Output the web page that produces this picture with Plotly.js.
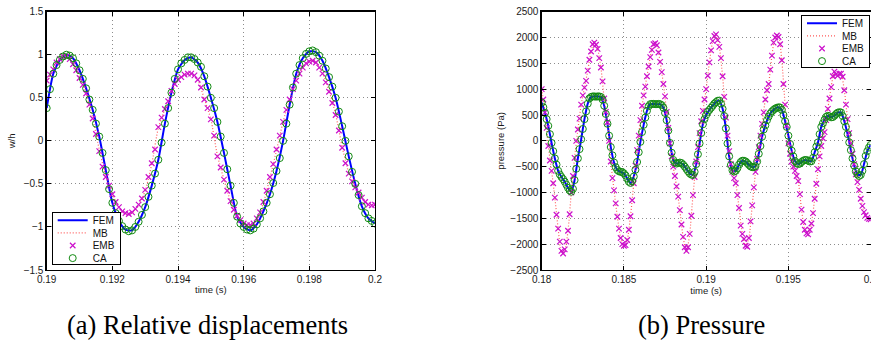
<!DOCTYPE html>
<html>
<head>
<meta charset="utf-8">
<script src="https://cdn.plot.ly/plotly-3.0.1.min.js"></script>
<style>
html,body{margin:0;padding:0;background:#fff;}
#chart{width:871px;height:347px;}
</style>
</head>
<body>
<div id="chart"></div>
<script>
// ---------- (a) Relative displacements ----------
const dispStart = 0.19;
const dispMarkerStep = 0.0001;
const dispLineStep = 0.0002;
const dispTickVals = [0.19, 0.192, 0.194, 0.196, 0.198, 0.2];
const dispTickText = ["0.19", "0.192", "0.194", "0.196", "0.198", "0.2"];
const dispYTickVals = [-1.5, -1, -0.5, 0, 0.5, 1, 1.5];
const dispYTickText = ["\u22121.5", "\u22121", "\u22120.5", "0", "0.5", "1", "1.5"];

// FEM (line, every 0.0002 s)
const dispFEM = [0.38,0.78,0.94,1.00,0.96,0.82,0.61,0.36,0.05,-0.34,
  -0.72,-0.93,-1.03,-1.04,-0.94,-0.77,-0.52,-0.22,0.20,0.56,
  0.83,0.94,0.97,0.91,0.75,0.50,0.22,-0.14,-0.52,-0.88,
  -1.00,-1.04,-0.97,-0.82,-0.62,-0.35,0.00,0.42,0.78,0.96,
  1.04,1.03,0.93,0.74,0.50,0.17,-0.18,-0.50,-0.76,-0.90,
  -0.96];
// MB (dotted line, every 0.0002 s)
const dispMB = [0.68,0.84,0.95,0.98,0.90,0.74,0.56,0.27,-0.10,-0.41,
  -0.62,-0.77,-0.85,-0.84,-0.75,-0.58,-0.27,0.15,0.37,0.57,
  0.71,0.77,0.78,0.71,0.49,0.25,-0.17,-0.45,-0.70,-0.87,
  -0.96,-0.99,-0.91,-0.72,-0.43,-0.11,0.22,0.48,0.70,0.85,
  0.93,0.92,0.79,0.58,0.31,-0.07,-0.37,-0.54,-0.66,-0.74,
  -0.75];
// EMB (x markers, every 0.0001 s)
const dispEMB = [0.70,0.77,0.83,0.91,0.95,0.98,0.98,0.95,0.89,0.82,
  0.73,0.65,0.55,0.42,0.26,0.08,-0.12,-0.30,-0.42,-0.52,
  -0.62,-0.71,-0.77,-0.82,-0.84,-0.85,-0.83,-0.79,-0.74,-0.67,
  -0.57,-0.42,-0.26,-0.10,0.16,0.27,0.37,0.46,0.58,0.66,
  0.71,0.74,0.77,0.78,0.78,0.76,0.71,0.62,0.48,0.38,
  0.25,0.06,-0.18,-0.31,-0.45,-0.58,-0.70,-0.80,-0.87,-0.92,
  -0.96,-0.98,-0.98,-0.96,-0.90,-0.83,-0.71,-0.58,-0.42,-0.27,
  -0.10,0.06,0.22,0.36,0.48,0.60,0.70,0.78,0.85,0.90,
  0.92,0.93,0.91,0.85,0.78,0.68,0.57,0.44,0.30,0.12,
  -0.08,-0.26,-0.38,-0.47,-0.54,-0.60,-0.66,-0.71,-0.74,-0.75,
  -0.74];
// CA (circle markers, every 0.0001 s)
const dispCA = [0.38,0.60,0.78,0.88,0.94,0.98,1.00,0.99,0.96,0.90,
  0.82,0.72,0.61,0.48,0.36,0.20,0.05,-0.14,-0.34,-0.56,
  -0.72,-0.84,-0.93,-0.99,-1.03,-1.05,-1.04,-1.00,-0.94,-0.86,
  -0.77,-0.65,-0.52,-0.38,-0.22,-0.02,0.20,0.38,0.56,0.72,
  0.83,0.90,0.94,0.97,0.97,0.95,0.91,0.86,0.75,0.63,
  0.50,0.38,0.22,0.05,-0.14,-0.33,-0.52,-0.72,-0.88,-0.96,
  -1.00,-1.03,-1.04,-1.02,-0.97,-0.90,-0.82,-0.72,-0.62,-0.49,
  -0.35,-0.20,0.00,0.20,0.42,0.62,0.78,0.88,0.96,1.01,
  1.04,1.05,1.03,0.99,0.93,0.84,0.74,0.63,0.50,0.34,
  0.17,0.00,-0.18,-0.36,-0.50,-0.63,-0.76,-0.84,-0.90,-0.93,
  -0.96];

// ---------- (b) Pressure ----------
const presStart = 0.18;
const presMarkerStep = 0.0001;
const presLineStep = 0.0002;
const presTickVals = [0.18, 0.185, 0.19, 0.195, 0.2];
const presTickText = ["0.18", "0.185", "0.19", "0.195", "0.2"];
const presYTickVals = [-2500, -2000, -1500, -1000, -500, 0, 500, 1000, 1500, 2000, 2500];
const presYTickText = ["\u22122500", "\u22122000", "\u22121500", "\u22121000", "\u2212500", "0", "500", "1000", "1500", "2000", "2500"];

const presFEM = [740,540,290,-40,-340,-580,-700,-790,-910,-985,
  -760,-340,30,420,720,850,860,860,850,680,
  330,-120,-420,-565,-600,-630,-730,-815,-690,-410,
  -20,310,580,710,715,710,710,640,400,-40,
  -370,-440,-420,-460,-545,-630,-660,-450,-50,320,
  500,600,680,750,780,620,240,-300,-570,-580,
  -460,-385,-400,-465,-510,-490,-250,80,300,470,
  570,625,650,600,380,100,-190,-390,-450,-410,
  -370,-385,-395,-220,-30,270,410,485,455,485,
  545,550,380,130,-180,-480,-650,-660,-450,-200,
  -80];
const presMB = [1000,550,-100,-580,-1100,-1700,-2150,-2120,-1740,-1000,
  -330,220,700,1030,1360,1730,1910,1780,1420,820,
  360,-400,-960,-1470,-1880,-2050,-1920,-1460,-820,-180,
  400,880,1250,1620,1870,1860,1530,1100,560,-50,
  -500,-880,-1340,-1860,-2160,-1800,-1050,-400,150,580,
  1000,1520,1930,2070,1820,1250,450,-200,-600,-820,
  -1300,-1800,-2040,-1880,-1250,-600,-120,330,800,1100,
  1650,2000,2020,1560,700,-50,-400,-580,-780,-1330,
  -1720,-1820,-1600,-1120,-550,-100,170,620,1040,1340,
  1260,1300,980,420,-50,-450,-800,-1120,-1380,-1490,
  -1520];
const presEMB = [1000,800,550,250,-100,-380,-580,-820,-1100,-1430,
  -1700,-1950,-2130,-2180,-2100,-1950,-1740,-1420,-1000,-680,
  -330,0,220,430,700,880,1030,1160,1360,1570,
  1730,1870,1900,1860,1780,1600,1420,1150,820,560,
  360,0,-400,-720,-960,-1210,-1470,-1700,-1880,-2000,
  -2030,-2020,-1920,-1720,-1460,-1150,-820,-480,-180,100,
  400,680,880,1050,1250,1440,1620,1760,1870,1890,
  1850,1710,1530,1330,1100,860,560,250,-50,-300,
  -500,-680,-880,-1080,-1340,-1620,-1860,-2060,-2130,-2060,
  -1800,-1450,-1050,-700,-400,-120,150,380,580,800,
  1000,1260,1520,1750,1930,2030,2060,1950,1820,1600,
  1250,850,450,100,-200,-450,-600,-720,-820,-1050,
  -1300,-1640,-1800,-1900,-2030,-2050,-1880,-1560,-1250,-900,
  -600,-350,-120,100,330,550,800,980,1100,1380,
  1650,1900,2000,2040,2010,1870,1560,1100,700,300,
  -50,-250,-400,-500,-580,-680,-780,-1030,-1330,-1570,
  -1720,-1790,-1810,-1720,-1600,-1400,-1120,-830,-550,-300,
  -100,50,170,400,620,820,1040,1250,1340,1290,
  1260,1300,1300,1240,980,700,420,150,-50,-250,
  -450,-650,-800,-950,-1120,-1260,-1380,-1440,-1490,-1510,
  -1520];
const presCA = [740,650,540,420,290,130,-40,-200,-340,-460,
  -580,-650,-700,-740,-790,-850,-910,-960,-985,-930,
  -760,-540,-340,-160,30,230,420,570,720,820,
  850,860,860,855,860,860,850,800,680,520,
  330,100,-120,-280,-420,-510,-565,-590,-600,-605,
  -630,-670,-730,-790,-815,-780,-690,-560,-410,-220,
  -20,170,310,450,580,670,710,715,715,710,
  710,715,710,690,640,540,400,200,-40,-230,
  -370,-420,-440,-430,-420,-430,-460,-500,-545,-590,
  -630,-655,-660,-600,-450,-260,-50,150,320,420,
  500,560,600,640,680,720,750,775,780,720,
  620,480,240,-50,-300,-470,-570,-595,-580,-530,
  -460,-410,-385,-385,-400,-430,-465,-495,-510,-510,
  -490,-400,-250,-100,80,220,300,400,470,530,
  570,600,625,640,650,645,600,500,380,270,
  100,-60,-190,-300,-390,-430,-450,-440,-410,-385,
  -370,-370,-385,-400,-395,-330,-220,-110,-30,130,
  270,340,410,465,485,475,455,460,485,520,
  545,555,550,480,380,270,130,-30,-180,-340,
  -480,-590,-650,-680,-660,-580,-450,-290,-200,-130,
  -80];

const seriesNames = ["FEM", "MB", "EMB", "CA"];
const captions = ["(a) Relative displacements", "(b) Pressure"];
const axisTitles = {dispX: "time (s)", dispY: "w/h", presX: "time (s)", presY: "pressure (Pa)"};

// ---------- styles ----------
const W = 871, H = 347;
const SANS = "\"Liberation Sans\", Arial, Helvetica, sans-serif";
const SERIF = "\"Liberation Serif\", \"Times New Roman\", Times, serif";
const tickFont = {family: SANS, size: 10, color: "#1a1a1a"};
const titleFont = {family: SANS, size: 9.5, color: "#1a1a1a"};
const legendFont = {family: SANS, size: 10, color: "#111"};
const captionFont = {family: SERIF, size: 26.5, color: "#000"};
const femStyle = {color: "#0000ff", width: 2, shape: "spline", smoothing: 0.6};
const mbStyle = {color: "#ff5a5a", width: 1.2, dash: "1px,2px", shape: "spline", smoothing: 0.6};
const embMarker = {symbol: "x-thin-open", size: 5.5, color: "#cc11cc", line: {color: "#cc11cc", width: 1.2}};
const caMarker = {symbol: "circle-open", size: 7, color: "#128a12", line: {color: "#128a12", width: 1}};

function series(xa, ya, lg, x0, stepL, stepM, fem, mb, emb, ca) {
  return [
    {type: "scatter", mode: "lines", name: seriesNames[0], x0: x0, dx: stepL, y: fem, line: femStyle, xaxis: xa, yaxis: ya, legend: lg, hoverinfo: "skip"},
    {type: "scatter", mode: "lines", name: seriesNames[1], x0: x0, dx: stepL, y: mb, line: mbStyle, xaxis: xa, yaxis: ya, legend: lg, hoverinfo: "skip"},
    {type: "scatter", mode: "markers", name: seriesNames[2], x0: x0, dx: stepM, y: emb, marker: embMarker, xaxis: xa, yaxis: ya, legend: lg, hoverinfo: "skip"},
    {type: "scatter", mode: "markers", name: seriesNames[3], x0: x0, dx: stepM, y: ca, marker: caMarker, xaxis: xa, yaxis: ya, legend: lg, hoverinfo: "skip"}
  ];
}

const data = [].concat(
  series("x", "y", "legend", dispStart, dispLineStep, dispMarkerStep, dispFEM, dispMB, dispEMB, dispCA),
  series("x2", "y2", "legend2", presStart, presLineStep, presMarkerStep, presFEM, presMB, presEMB, presCA)
);

const yDomain = [(H - 270) / H, (H - 11.7) / H];
function axisBase(extra) {
  return Object.assign({
    showline: true, linecolor: "#000", linewidth: 1.3, mirror: "ticks",
    ticks: "inside", ticklen: 4, tickwidth: 1, tickcolor: "#000",
    showgrid: true, gridcolor: "#8c8c8c", griddash: "1px,3px", gridwidth: 1,
    zeroline: false, tickfont: tickFont, automargin: false, fixedrange: true,
    tickmode: "array", ticklabeloverflow: "allow"
  }, extra);
}

const legendBase = {bgcolor: "#fff", bordercolor: "#000", borderwidth: 1, font: legendFont, tracegroupgap: 0};

const layout = {
  width: W, height: H,
  margin: {l: 0, r: 0, t: 0, b: 0},
  paper_bgcolor: "#fff", plot_bgcolor: "#fff",
  showlegend: true,
  font: {family: SANS},
  xaxis: axisBase({domain: [46.7 / W, 375 / W], range: [0.19, 0.2], anchor: "y",
    tickvals: dispTickVals, ticktext: dispTickText,
    title: {text: axisTitles.dispX, font: titleFont, standoff: 2}}),
  yaxis: axisBase({domain: yDomain, range: [-1.5, 1.5], anchor: "x",
    tickvals: dispYTickVals, ticktext: dispYTickText,
    title: {text: axisTitles.dispY, font: titleFont, standoff: 6}}),
  xaxis2: axisBase({domain: [541.7 / W, 870.6 / W], range: [0.18, 0.2], anchor: "y2",
    tickvals: presTickVals, ticktext: presTickText,
    title: {text: axisTitles.presX, font: titleFont, standoff: 2}}),
  yaxis2: axisBase({domain: yDomain, range: [-2500, 2500], anchor: "x2",
    tickvals: presYTickVals, ticktext: presYTickText,
    title: {text: axisTitles.presY, font: titleFont, standoff: 4}}),
  legend: Object.assign({x: 51.7 / W, y: (H - 265) / H, xanchor: "left", yanchor: "bottom"}, legendBase),
  legend2: Object.assign({x: 870 / W, y: (H - 15.3) / H, xanchor: "right", yanchor: "top"}, legendBase),
  annotations: [
    {text: captions[0], xref: "paper", yref: "paper", x: 207 / W, y: (H - 325) / H, xanchor: "center", yanchor: "middle",
      showarrow: false, font: captionFont},
    {text: captions[1], xref: "paper", yref: "paper", x: 701 / W, y: (H - 325) / H, xanchor: "center", yanchor: "middle",
      showarrow: false, font: captionFont}
  ]
};

// Tighten the legend rows to the compact spacing of the original figure.
const legendRowGap = 12.6, legendFirstRow = 8, legendHeight = 52.7;
function compactLegend(gd, cls, anchorBottom) {
  const g = gd.querySelector("g." + cls);
  if (!g) return;
  const bg = g.querySelector("rect.bg");
  const items = g.querySelectorAll("g.traces");
  const bw = 1;
  items.forEach(function (it, k) {
    const m = /translate\(\s*([-\d.e]+)[ ,]+([-\d.e]+)\s*\)/.exec(it.getAttribute("transform") || "");
    if (m) it.setAttribute("transform", "translate(" + m[1] + "," + (legendFirstRow + k * legendRowGap) + ")");
  });
  if (bg) {
    const oldH = parseFloat(bg.getAttribute("height")) + bw;
    bg.setAttribute("height", legendHeight - bw);
    if (anchorBottom) {
      const m = /translate\(\s*([-\d.e]+)[ ,]+([-\d.e]+)\s*\)/.exec(g.getAttribute("transform") || "");
      if (m) g.setAttribute("transform", "translate(" + m[1] + "," + (parseFloat(m[2]) + oldH - legendHeight) + ")");
    }
  }
}

Plotly.newPlot("chart", data, layout, {staticPlot: true, displayModeBar: false}).then(function (gd) {
  compactLegend(gd, "legend", true);
  compactLegend(gd, "legend2", false);
});
</script>
</body>
</html>
